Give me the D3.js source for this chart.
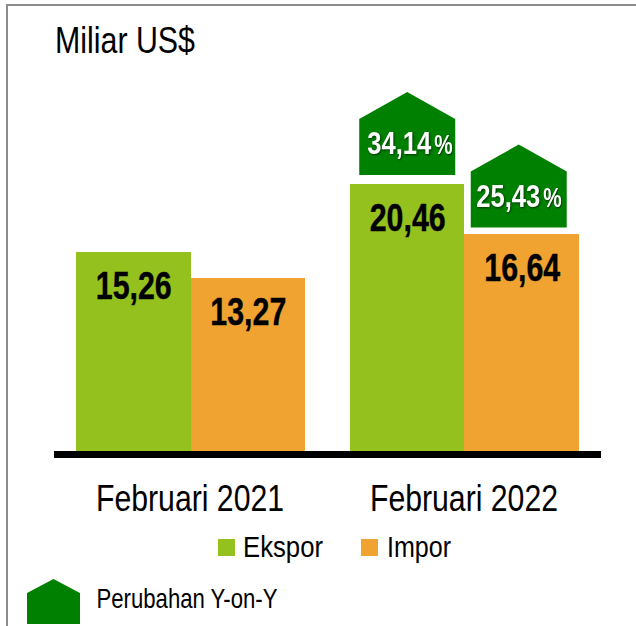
<!DOCTYPE html>
<html>
<head>
<meta charset="utf-8">
<script src="https://cdn.jsdelivr.net/npm/d3@7"></script>
<style>
  html, body { margin: 0; padding: 0; background: #fff; }
  svg { display: block; }
  text { font-family: "Liberation Sans", Arial, sans-serif; fill: #000; }
</style>
</head>
<body>
<div id="chart"></div>
<script>
const periods = ['Februari 2021', 'Februari 2022'];
const seriesNames = ['Ekspor', 'Impor'];
const ekspor = [15.26, 20.46];
const impor = [13.27, 16.64];
const changeLabels = [null, null, '34,14', '25,43'];
const colors = ['#95c11f', '#f0a330'];
const houseColor = '#008000';

const width = 636;
const height = 626;
const baseline = 451;

const svg = d3.select('#chart').append('svg')
  .attr('width', width)
  .attr('height', height);

// frame: only the top and left edges show
svg.append('path')
  .attr('d', `M${width},5H7V${height}`)
  .attr('fill', 'none')
  .attr('stroke', '#8c8c8c')
  .attr('stroke-width', 2);

const x0 = d3.scaleBand().domain(periods).range([76, 579]).paddingInner(0.164);
const x1 = d3.scaleBand().domain(seriesNames).range([0, x0.bandwidth()]);
const y = d3.scaleLinear().domain([0, 20.46]).range([baseline, 184]);
const fmt = (v) => v.toFixed(2).replace('.', ',');

// squeezed text, the source uses a condensed Arial
function label(parent, str, px, py, size, len, weight) {
  return parent.append('text')
    .attr('x', px)
    .attr('y', py)
    .attr('text-anchor', 'middle')
    .attr('font-size', size)
    .attr('font-weight', weight || 'normal')
    .attr('textLength', len)
    .attr('lengthAdjust', 'spacingAndGlyphs')
    .text(str);
}

// same squeeze through a transform, so the box of the text is the squeezed one
function scaledLabel(parent, str, px, py, size, sx, anchor) {
  return parent.append('text')
    .attr('transform', `translate(${px},${py}) scale(${sx},1)`)
    .attr('text-anchor', anchor)
    .attr('font-size', size)
    .attr('font-weight', 'bold')
    .style('fill', '#fff')
    .style('filter', 'drop-shadow(1px 1px 1px rgba(0,0,0,0.6))')
    .text(str);
}

function housePath(cx, bottom, w, h, shoulder) {
  return `M${cx - w / 2},${bottom}V${bottom - h + shoulder}L${cx},${bottom - h}L${cx + w / 2},${bottom - h + shoulder}V${bottom}Z`;
}

const rows = periods.flatMap((p, i) => [
  { period: p, name: seriesNames[0], value: ekspor[i], color: colors[0] },
  { period: p, name: seriesNames[1], value: impor[i], color: colors[1] }
]);
rows.forEach((d, i) => { d.change = changeLabels[i]; });

const barX = (d) => x0(d.period) + x1(d.name);
const barTop = (d) => Math.round(y(d.value));

// rounded edges so no pale seam shows between the paired bars
svg.append('g').selectAll('rect')
  .data(rows)
  .join('rect')
  .attr('x', (d) => Math.round(barX(d)))
  .attr('y', barTop)
  .attr('width', (d) => Math.round(barX(d) + x1.bandwidth()) - Math.round(barX(d)))
  .attr('height', (d) => baseline - barTop(d))
  .attr('fill', (d) => d.color);

// axis line
svg.append('rect')
  .attr('x', 54).attr('y', baseline)
  .attr('width', 547).attr('height', 7)
  .attr('fill', '#000');

// value labels
rows.forEach((d) => {
  label(svg, fmt(d.value), barX(d) + x1.bandwidth() / 2 + 0.5, barTop(d) + 47, 38, 76, 'bold')
    .style('stroke', '#000')
    .style('stroke-width', 0.4);
});

// change markers
rows.filter((d) => d.change).forEach((d, i) => {
  const cx = barX(d) + x1.bandwidth() / 2 + (i === 0 ? 0 : -3);
  const bottom = barTop(d) - (i === 0 ? 9 : 6.5);
  const textX = cx + (i === 0 ? 24 : 21.5);
  svg.append('path')
    .attr('d', housePath(cx, bottom, 96, 83, 27))
    .attr('fill', houseColor);
  scaledLabel(svg, d.change, textX, bottom - 21, 32, 0.8, 'end');
  scaledLabel(svg, '%', textX + 3, bottom - 21, 28, 0.74, 'start');
});

// period labels
periods.forEach((p) => {
  label(svg, p, x0(p) + x0.bandwidth() / 2 - 0.5, 511, 37, 188);
});

label(svg, 'Miliar US$', 125, 53, 37, 140);

// legend
const legendX = [218, 361];
const legendLabelX = [283, 419];
const legendLen = [80, 64];
seriesNames.forEach((n, i) => {
  svg.append('rect')
    .attr('x', legendX[i]).attr('y', 539)
    .attr('width', 17).attr('height', 17)
    .attr('fill', colors[i]);
  label(svg, n, legendLabelX[i], 557, 30, legendLen[i]);
});

svg.append('path')
  .attr('d', housePath(53.5, 624, 53, 45, 14))
  .attr('fill', houseColor);
label(svg, 'Perubahan Y-on-Y', 187, 608, 28, 181);
</script>
</body>
</html>
